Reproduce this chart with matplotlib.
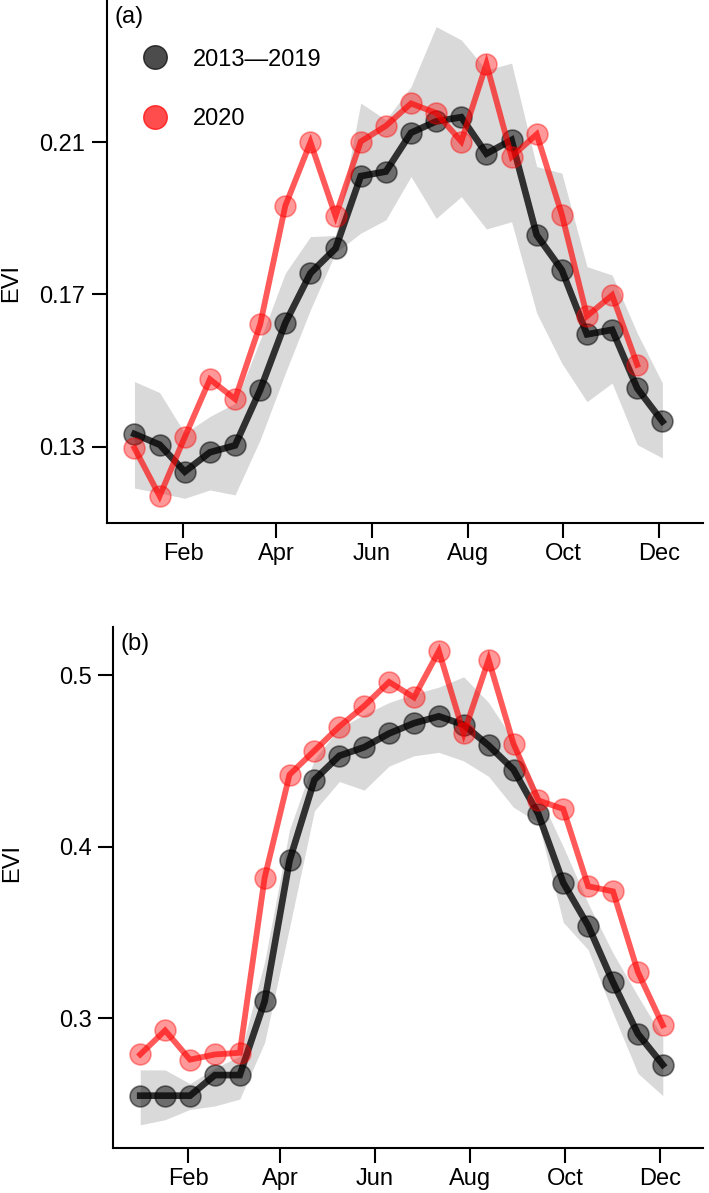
import numpy as np
import matplotlib
matplotlib.use("Agg")
import matplotlib.pyplot as plt
from matplotlib.lines import Line2D

plt.rcParams['font.family'] = ['Liberation Sans', 'DejaVu Sans']

# 16-day composite day of year
doy = [1, 17, 33, 49, 65, 81, 97, 113, 129, 145, 161, 177,
       193, 209, 225, 241, 257, 273, 289, 305, 321, 337]
month_ticks = [32, 91, 152, 213, 274, 335]
month_labels = ['Feb', 'Apr', 'Jun', 'Aug', 'Oct', 'Dec']

# panel (a)
mean_a = [0.1333, 0.1305, 0.1234, 0.1285, 0.1303, 0.1449, 0.1625, 0.1756, 0.1821, 0.2011, 0.2023,
          0.2125, 0.2155, 0.2166, 0.2070, 0.2106, 0.1856, 0.1764, 0.1595, 0.1607, 0.1453, 0.1366]
upper_a = [0.1471, 0.1442, 0.1335, 0.1379, 0.1414, 0.1580, 0.1756, 0.1852, 0.1855, 0.2203, 0.2159,
           0.2246, 0.2404, 0.2369, 0.2290, 0.2308, 0.2036, 0.2019, 0.1773, 0.1751, 0.1598, 0.1467]
lower_a = [0.1191, 0.1178, 0.1164, 0.1186, 0.1173, 0.1318, 0.1493, 0.1660, 0.1810, 0.1861, 0.1896,
           0.2010, 0.1900, 0.1957, 0.1872, 0.1891, 0.1651, 0.1519, 0.1418, 0.1467, 0.1305, 0.1270]
y2020_a = [0.1296, 0.1170, 0.1325, 0.1477, 0.1425, 0.1621, 0.1933, 0.2100, 0.1906, 0.2102, 0.2143,
           0.2202, 0.2177, 0.2102, 0.2306, 0.2062, 0.2121, 0.1910, 0.1643, 0.1698, 0.1515]

# panel (b)
mean_b = [0.255, 0.255, 0.255, 0.267, 0.267, 0.310, 0.392, 0.439, 0.453, 0.458, 0.466,
          0.472, 0.476, 0.471, 0.459, 0.445, 0.419, 0.379, 0.354, 0.321, 0.291, 0.273]
upper_b = [0.270, 0.270, 0.262, 0.271, 0.278, 0.333, 0.410, 0.451, 0.469, 0.477, 0.484,
           0.489, 0.493, 0.499, 0.484, 0.462, 0.431, 0.400, 0.367, 0.338, 0.313, 0.289]
lower_b = [0.238, 0.241, 0.247, 0.249, 0.253, 0.286, 0.353, 0.421, 0.438, 0.433, 0.447,
           0.453, 0.455, 0.450, 0.441, 0.423, 0.414, 0.356, 0.340, 0.303, 0.268, 0.255]
y2020_b = [0.279, 0.293, 0.276, 0.279, 0.280, 0.382, 0.442, 0.456, 0.470, 0.482, 0.496,
           0.487, 0.514, 0.466, 0.509, 0.460, 0.427, 0.422, 0.377, 0.374, 0.327, 0.296]

FS = 17

fig = plt.figure(figsize=(7.09, 11.93), dpi=100)
ax_a = fig.add_axes([0.1509, 0.5619, 0.8410, 0.4381])
ax_b = fig.add_axes([0.1594, 0.0377, 0.8325, 0.4367])


def draw_panel(ax, mean, lower, upper, y2020, ylim, yticks, ylabels, tag, label_pos):
    n20 = len(y2020)
    ax.fill_between(doy, lower, upper, color='#d9d9d9', lw=0, zorder=1)
    ax.plot(doy, mean, color='black', lw=4.8, alpha=0.78, zorder=2,
            solid_joinstyle='miter')
    ax.plot(doy, mean, ls='none', marker='o', ms=15, color='black', alpha=0.5,
            mew=1.2, zorder=3)
    ax.plot(doy[:n20], y2020, color='red', lw=4.2, alpha=0.65, zorder=4,
            solid_joinstyle='miter')
    ax.plot(doy[:n20], y2020, ls='none', marker='o', ms=15, color='red', alpha=0.4,
            mew=1.2, zorder=5)

    ax.set_xlim(-16.5, 363)
    ax.set_ylim(*ylim)
    ax.set_xticks(month_ticks)
    ax.set_xticklabels(month_labels)
    ax.set_yticks(yticks)
    ax.set_yticklabels(ylabels)
    for s in ['top', 'right']:
        ax.spines[s].set_visible(False)
    for s in ['left', 'bottom']:
        ax.spines[s].set_linewidth(1.5)
    ax.tick_params(axis='both', direction='out', length=10.5, width=1.5,
                   labelsize=FS)
    ax.tick_params(axis='y', pad=5)
    ax.tick_params(axis='x', pad=4)
    ax.set_ylabel('EVI', fontsize=FS)
    ax.yaxis.set_label_coords(label_pos[0], label_pos[1])
    ax.text(0.013, 0.988, tag, transform=ax.transAxes, fontsize=FS,
            ha='left', va='top')


draw_panel(ax_a, mean_a, lower_a, upper_a, y2020_a, (0.110, 0.2474),
           [0.13, 0.17, 0.21], ['0.13', '0.17', '0.21'], '(a)', (-0.142, 0.459))
draw_panel(ax_b, mean_b, lower_b, upper_b, y2020_b, (0.2245, 0.528),
           [0.3, 0.4, 0.5], ['0.3', '0.4', '0.5'], '(b)', (-0.153, 0.547))

handles = [
    Line2D([], [], ls='none', marker='o', ms=17, color='black', alpha=0.7),
    Line2D([], [], ls='none', marker='o', ms=17, color='red', alpha=0.7),
]
ax_a.legend(handles, ['2013\u20142019', '2020'], loc='upper left',
            bbox_to_anchor=(0.025, 0.925), frameon=False, fontsize=FS,
            labelspacing=1.6, handletextpad=0.6, borderaxespad=0)

fig.savefig('out.png', dpi=100)
